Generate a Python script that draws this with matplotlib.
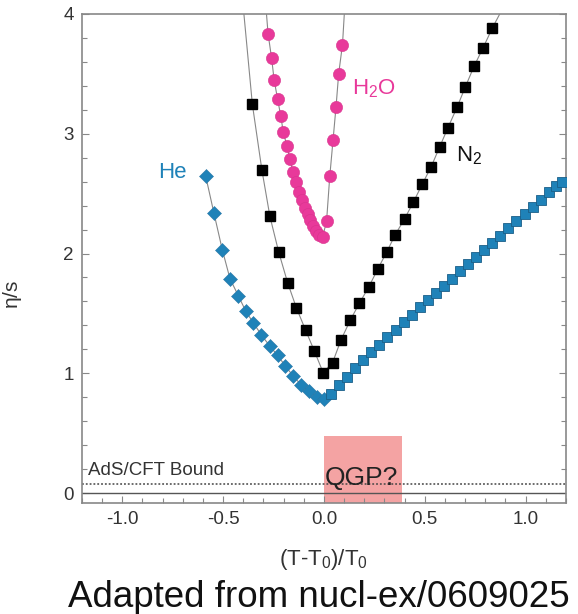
import numpy as np
import matplotlib
matplotlib.use('Agg')
import matplotlib.pyplot as plt
from matplotlib.ticker import MultipleLocator, FixedLocator

plt.rcParams['font.family'] = ['Liberation Sans', 'DejaVu Sans']
plt.rcParams['mathtext.fontset'] = 'custom'
plt.rcParams['mathtext.rm'] = 'Liberation Sans'
plt.rcParams['mathtext.it'] = 'Liberation Sans'

# He, left branch (diamonds)
he_x = [-0.587, -0.546, -0.504, -0.466, -0.424, -0.388, -0.350, -0.310,
        -0.270, -0.230, -0.191, -0.154, -0.114, -0.075, -0.035, 0.0]
he_y = [2.65, 2.34, 2.03, 1.79, 1.645, 1.52, 1.42, 1.32,
        1.23, 1.15, 1.06, 0.98, 0.905, 0.85, 0.80, 0.785]

# He, right branch (squares)
he2_x = [0.035, 0.075, 0.115, 0.155, 0.195, 0.235, 0.275, 0.315, 0.355, 0.395,
         0.435, 0.475, 0.515, 0.555, 0.595, 0.635, 0.675, 0.715, 0.755, 0.795,
         0.835, 0.875, 0.915, 0.955, 0.995, 1.035, 1.075, 1.115, 1.150, 1.180]
he2_y = [0.83, 0.90, 0.97, 1.045, 1.11, 1.175, 1.24, 1.305, 1.365, 1.425,
         1.485, 1.55, 1.61, 1.67, 1.73, 1.79, 1.85, 1.91, 1.97, 2.03,
         2.09, 2.15, 2.21, 2.27, 2.33, 2.39, 2.45, 2.51, 2.56, 2.60]

# N2
n2_x = [-0.355, -0.308, -0.268, -0.224, -0.180, -0.137, -0.091, -0.048, -0.004,
        0.043, 0.085, 0.131, 0.176, 0.222, 0.267, 0.312, 0.353, 0.400, 0.444,
        0.488, 0.532, 0.574, 0.615, 0.660, 0.701, 0.745, 0.790, 0.836]
n2_y = [3.245, 2.70, 2.31, 2.01, 1.756, 1.548, 1.36, 1.188, 1.006,
        1.09, 1.28, 1.445, 1.585, 1.72, 1.87, 2.015, 2.155, 2.29, 2.43,
        2.58, 2.725, 2.89, 3.05, 3.22, 3.39, 3.565, 3.72, 3.885]
# guide curve ends (where the gray line leaves the top of the frame)
n2_ends_x = [-0.397, 0.872]

# H2O
h2o_x = [-0.277, -0.260, -0.247, -0.230, -0.214, -0.202, -0.184, -0.169, -0.154,
         -0.138, -0.123, -0.109, -0.095, -0.081, -0.068, -0.055, -0.040, -0.023,
         -0.007, 0.013, 0.029, 0.045, 0.060, 0.073, 0.092]
h2o_y = [3.833, 3.636, 3.449, 3.29, 3.147, 3.017, 2.898, 2.787, 2.683,
         2.594, 2.516, 2.447, 2.383, 2.327, 2.28, 2.233, 2.19, 2.155,
         2.135, 2.27, 2.647, 2.945, 3.226, 3.50, 3.745]
h2o_ends_x = [-0.285, 0.101]

ads_bound = 1 / (4 * np.pi)
qgp_x = [0.0, 0.385]
qgp_top = 0.475

blue = '#1f82b8'
pink = '#e8399a'
gray = '#888888'

fig = plt.figure(figsize=(5.78, 6.14), dpi=100)
ax = fig.add_axes([0.1419, 0.1808, 0.8371, 0.7964])

# QGP region
ax.axvspan(qgp_x[0], qgp_x[1], ymin=0, ymax=(qgp_top + 0.083) / 4.083,
           color='#f4a3a3', lw=0, zorder=0)
ax.text(0.005, 0.025, 'QGP?', fontsize=19, color='#222222', ha='left', va='bottom')

ax.axhline(0, color='#555555', lw=1.0)
ax.axhline(ads_bound, color='#444444', lw=1.1, ls=(0, (1.2, 1.3)))
ax.text(-1.17, 0.115, 'AdS/CFT Bound', fontsize=13.5, color='#333333',
        ha='left', va='bottom')

# guide lines
ax.plot(he_x + he2_x, he_y + he2_y, color=gray, lw=0.8, zorder=1)
ax.plot([n2_ends_x[0]] + n2_x + [n2_ends_x[1]], [4.0] + n2_y + [4.0],
        color=gray, lw=0.8, zorder=1)
ax.plot([h2o_ends_x[0]] + h2o_x + [h2o_ends_x[1]], [4.0] + h2o_y + [4.0],
        color=gray, lw=0.8, zorder=1)

# markers
ax.plot(he_x, he_y, 'D', ms=7.2, color=blue, mec='#2d78a6', mew=0.4, ls='none', zorder=3)
ax.plot(he2_x, he2_y, 's', ms=7.0, color=blue, mec='#1b5f88', mew=0.6, ls='none', zorder=3)
ax.plot(n2_x, n2_y, 's', ms=6.6, color='black', ls='none', zorder=3)
ax.plot(h2o_x, h2o_y, 'o', ms=8.8, color=pink, mec='#d8338c', mew=0.4, ls='none', zorder=3)

ax.text(-0.75, 2.68, 'He', fontsize=16, color=blue, ha='center', va='center')
ax.text(0.25, 3.38, r'H$_2$O', fontsize=16, color=pink, ha='center', va='center')
ax.text(0.72, 2.82, r'N$_2$', fontsize=16, color='#111111', ha='center', va='center')

ax.set_xlim(-1.2, 1.2)
ax.set_ylim(-0.083, 4.0)
ax.xaxis.set_major_locator(FixedLocator([-1.0, -0.5, 0.0, 0.5, 1.0]))
ax.set_xticklabels(['-1.0', '-0.5', '0.0', '0.5', '1.0'])
ax.xaxis.set_minor_locator(MultipleLocator(0.1))
ax.yaxis.set_major_locator(FixedLocator([0, 1, 2, 3, 4]))
ax.yaxis.set_minor_locator(MultipleLocator(0.2))
ax.tick_params(which='both', direction='in', top=False, right=True,
               color=gray, labelsize=13.5, labelcolor='#333333', pad=6)
ax.tick_params(which='major', length=5, width=0.8)
ax.tick_params(which='minor', length=3.5, width=0.8)
ax.tick_params(axis='y', labelright=False)
for sp in ax.spines.values():
    sp.set_color(gray)
    sp.set_linewidth(1.2)

fig.text(0.56, 0.088, r'(T-T$_0$)/T$_0$', fontsize=16, color='#333333',
         ha='center', va='center')
fig.text(0.022, 0.52, r'$\eta$/s', fontsize=15, color='#333333',
         ha='center', va='center', rotation=90)
fig.text(68 / 578, 7 / 614, 'Adapted from nucl-ex/0609025', fontsize=26.5,
         color='#111111', ha='left', va='baseline')

fig.savefig('out.png', dpi=100)
